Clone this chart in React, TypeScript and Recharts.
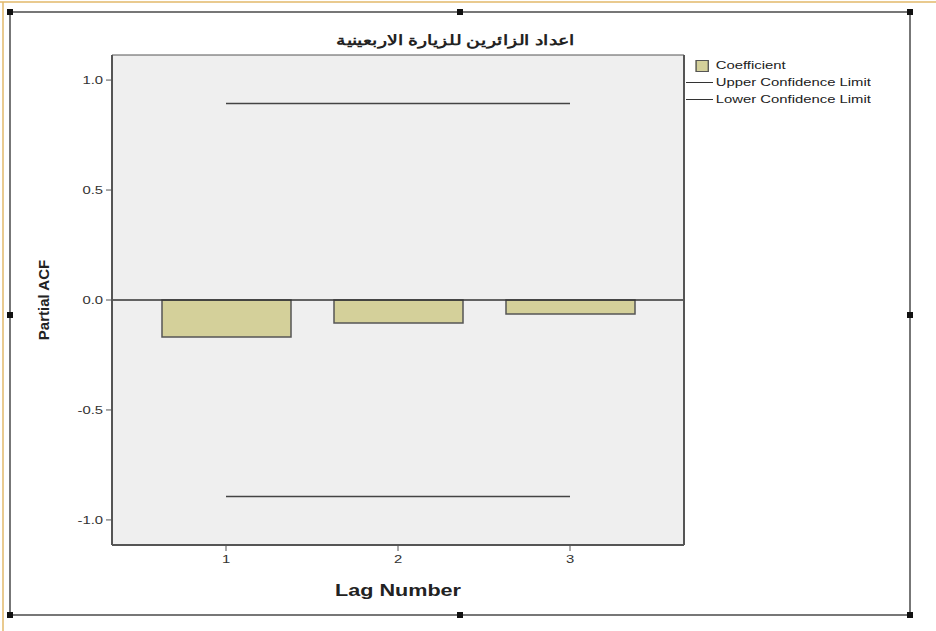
import React from 'react';
import { ComposedChart, Bar, Line, XAxis, YAxis, CartesianGrid, ReferenceLine } from 'recharts';

// values
const lags = ['1', '2', '3'];
const coefficient = [-0.168, -0.105, -0.064];
const upperLimit = [0.894, 0.894, 0.894];
const lowerLimit = [-0.894, -0.894, -0.894];
const yTicks = [-1, -0.5, 0, 0.5, 1];

const data = lags.map((lag, i) => ({
  lag,
  coefficient: coefficient[i],
  upper: upperLimit[i],
  lower: lowerLimit[i],
}));

const barFill = '#d4d09a';
const font = 'Arial, "Liberation Sans", sans-serif';
// the source picture is stretched sideways, so text gets widened a bit
const stretch = 1.35;

const XTick = (props: any) => {
  const { x, y, payload } = props;
  return (
    <text transform={`translate(${x},${y + 10}) scale(${stretch},1)`} textAnchor="middle" fontSize={11} fontFamily={font} fill="#333">
      {payload.value}
    </text>
  );
};

const YTick = (props: any) => {
  const { x, y, payload } = props;
  return (
    <text transform={`translate(${x - 1},${y + 4}) scale(${stretch},1)`} textAnchor="end" fontSize={11} fontFamily={font} fill="#333">
      {Number(payload.value).toFixed(1)}
    </text>
  );
};

const XLabel = (props: any) => {
  const { viewBox } = props;
  const cx = viewBox.x + viewBox.width / 2;
  return (
    <text transform={`translate(${cx},${viewBox.y + 51}) scale(${stretch},1)`} textAnchor="middle" fontSize={16} fontWeight="bold" fontFamily={font} fill="#222">
      Lag Number
    </text>
  );
};

const LegendBox = () => (
  <div style={{ fontFamily: font, fontSize: 11, color: '#222', lineHeight: '17px', transform: `scaleX(${stretch})`, transformOrigin: 'left top' }}>
    <div style={{ display: 'flex', alignItems: 'center' }}>
      <span style={{ width: 8, height: 10, background: barFill, border: '1px solid #555', marginLeft: 7, marginRight: 5 }} />
      Coefficient
    </div>
    <div style={{ display: 'flex', alignItems: 'center' }}>
      <span style={{ width: 20, borderTop: '1.5px solid #333', marginRight: 2 }} />
      Upper Confidence Limit
    </div>
    <div style={{ display: 'flex', alignItems: 'center' }}>
      <span style={{ width: 20, borderTop: '1.5px solid #333', marginRight: 2 }} />
      Lower Confidence Limit
    </div>
  </div>
);

const handles = [
  [10, 12], [460, 12], [910, 12],
  [10, 315], [910, 315],
  [10, 615], [460, 615], [910, 615],
];

const App: React.FC = () => {
  return (
    <div style={{ position: 'absolute', left: 0, top: 0, width: 936, height: 631, background: '#fff' }}>
      <svg width={936} height={631} style={{ position: 'absolute', left: 0, top: 0 }}>
        <line x1={0} y1={2} x2={936} y2={2} stroke="#e2b96a" strokeWidth={1.5} />
        <line x1={3} y1={2} x2={3} y2={631} stroke="#e2b96a" strokeWidth={1.5} />
        <rect x={10} y={12} width={900} height={603} fill="none" stroke="#777" strokeWidth={2} />
        {handles.map(([x, y], i) => (
          <rect key={i} x={x - 3} y={y - 3} width={6} height={6} fill="#111" />
        ))}
      </svg>
      <div
        style={{
          position: 'absolute', left: 305, top: 32, width: 300, textAlign: 'center',
          fontFamily: font, fontWeight: 'bold', fontSize: 14, direction: 'rtl', color: '#222',
          transform: `scaleX(${stretch})`, transformOrigin: '150px 0',
        }}
      >
        اعداد الزائرين للزيارة الاربعينية
      </div>
      <div style={{ position: 'absolute', left: 686, top: 57 }}>
        <LegendBox />
      </div>
      <div style={{ position: 'absolute', left: 0, top: 0 }}>
        <ComposedChart width={936} height={631} data={data} margin={{ top: 55, right: 252, left: 0, bottom: 0 }}>
          <CartesianGrid fill="#efefef" horizontal={false} vertical={false} />
          <XAxis
            dataKey="lag"
            height={86}
            padding={{ left: 28, right: 28 }}
            tick={<XTick />}
            tickLine={{ stroke: '#555' }}
            axisLine={{ stroke: '#555', strokeWidth: 2 }}
            label={<XLabel />}
          />
          <YAxis
            width={112}
            domain={[-1.114, 1.114]}
            ticks={yTicks}
            tick={<YTick />}
            tickLine={{ stroke: '#555' }}
            axisLine={{ stroke: '#555', strokeWidth: 2 }}
            label={{ value: 'Partial ACF', angle: -90, position: 'center', dx: -12, style: { fontFamily: font, fontWeight: 'bold', fontSize: 15, fill: '#222' } }}
          />
          <ReferenceLine y={1.114} stroke="#555" strokeWidth={1} />
          <Bar dataKey="coefficient" name="Coefficient" fill={barFill} stroke="#555" strokeWidth={1.5} barSize={129} isAnimationActive={false} />
          <ReferenceLine y={0} stroke="#333" strokeWidth={1.5} />
          <Line dataKey="upper" name="Upper Confidence Limit" stroke="#444" strokeWidth={1.5} dot={false} isAnimationActive={false} />
          <Line dataKey="lower" name="Lower Confidence Limit" stroke="#444" strokeWidth={1.5} dot={false} isAnimationActive={false} />
        </ComposedChart>
      </div>
      <svg width={936} height={631} style={{ position: 'absolute', left: 0, top: 0, pointerEvents: 'none' }}>
        <line x1={684} y1={55} x2={684} y2={545} stroke="#555" strokeWidth={2} />
      </svg>
    </div>
  );
};

export default App;
